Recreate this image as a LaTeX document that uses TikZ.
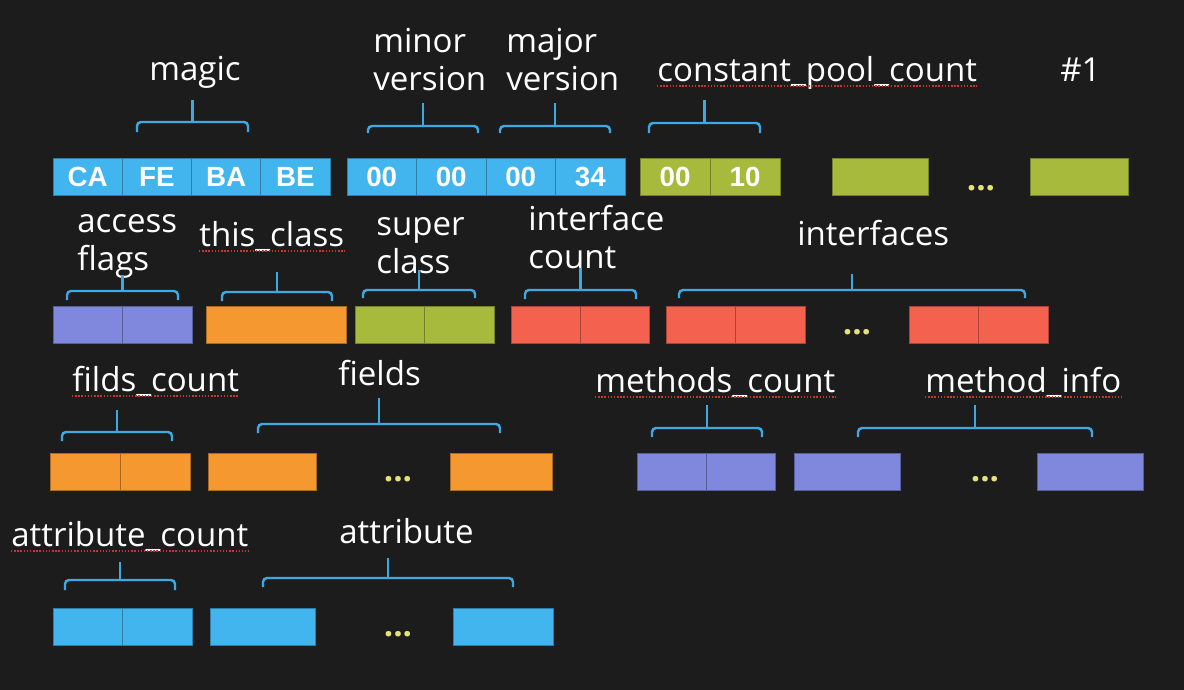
\documentclass[tikz,border=0pt]{standalone}
\usepackage{fontspec}
\setmainfont{Open Sans}
\newfontfamily\hexfamily{Liberation Sans}
\usepackage{xcolor}
\usepackage{tikz}

\definecolor{board}{HTML}{1C1C1C}
\definecolor{cblue}{HTML}{42B4EE}
\definecolor{cgreen}{HTML}{A8BA3C}
\definecolor{cpurple}{HTML}{7F88DD}
\definecolor{corange}{HTML}{F5982F}
\definecolor{cred}{HTML}{F4614F}
\definecolor{bracecol}{HTML}{3DA8E2}
\definecolor{dotcol}{HTML}{E6E27A}
\definecolor{spellred}{HTML}{C8352C}

\newlength{\px}\setlength{\px}{0.02cm}
\newcommand{\hexfont}{\hexfamily\bfseries\fontsize{15.8pt}{17pt}\selectfont}
\newcommand{\lblfont}{\fontsize{18.8pt}{21.6pt}\selectfont}

% group brace: left, right, bar y, tip y, stem top y
\newcommand{\grp}[5]{%
  \draw[brace] (#1,#4) -- (#1,#3) -- (#2,#3) -- (#2,#4);
  \draw[brace] ({(#1+#2)/2},#3) -- ({(#1+#2)/2},#5);
}

\begin{document}
\begin{tikzpicture}[x=0.02cm, y=-0.02cm,
  cell/.style={fill=#1, draw=#1!70!black, line width=0.5pt,
    minimum height=37\px, inner sep=0pt, text=white, font=\hexfont},
  brace/.style={draw=bracecol, line width=1.4pt, rounded corners=0.08cm},
  lbl/.style={text=white, font=\lblfont, inner sep=0pt, anchor=base west, align=left},
  dots/.style={text=dotcol, font=\lblfont\bfseries, inner sep=0pt, anchor=base},
  spell/.style={draw=spellred, densely dotted, line width=0.8pt}]

  \fill[board] (0,0) rectangle (1184,690);
  \useasboundingbox (0,0) rectangle (1184,690);

  % Row 1: magic, versions, constant pool
  \foreach \t [count=\i] in {CA,FE,BA,BE}
    \node[cell=cblue, minimum width=69.25\px] (mg\i) at ({53+69.25*(\i-0.5)},177) {\t};
  \foreach \t [count=\i] in {00,00,00,34}
    \node[cell=cblue, minimum width=69.5\px] (vr\i) at ({347+69.5*(\i-0.5)},177) {\t};
  \node[cell=cgreen, minimum width=70\px] (cp1) at (675,177) {00};
  \node[cell=cgreen, minimum width=70\px] (cp2) at (745,177) {10};
  \node[cell=cgreen, minimum width=96\px] (cpA) at (880,177) {};
  \node[dots] (d1) at (981,190) {...};
  \node[cell=cgreen, minimum width=98\px] (cpB) at (1079,177) {};

  % (multi-line labels sit on their last baseline)
  \node[lbl] (magic) at (149,80) {magic};
  \node[lbl] (minor) at (373,90) {minor\\version};
  \node[lbl] (major) at (506,90) {major\\version};
  \node[lbl] (cpc) at (657,81) {constant\_pool\_count};
  \node[lbl] (num) at (1060,81) {\#1};
  \draw[spell] ([yshift=-5\px]cpc.base west) -- ([yshift=-5\px]cpc.base east);

  \grp{137}{248}{122}{132}{100}
  \grp{368}{478}{126}{133}{103}
  \grp{500}{610}{126}{133}{103}
  \grp{649}{760}{123}{133}{100}

  % Row 2: flags, classes, interfaces
  \node[cell=cpurple, minimum width=69.5\px] (af1) at (87.75,324.5) {};
  \node[cell=cpurple, minimum width=69.5\px] (af2) at (157.25,324.5) {};
  \node[cell=corange, minimum width=140\px] (tc) at (276,324.5) {};
  \node[cell=cgreen, minimum width=69.5\px] (sc1) at (389.75,324.5) {};
  \node[cell=cgreen, minimum width=69.5\px] (sc2) at (459.25,324.5) {};
  \node[cell=cred, minimum width=69\px] (ic1) at (545.5,324.5) {};
  \node[cell=cred, minimum width=69\px] (ic2) at (614.5,324.5) {};
  \node[cell=cred, minimum width=69.5\px] (if1) at (700.75,324.5) {};
  \node[cell=cred, minimum width=69.5\px] (if2) at (770.25,324.5) {};
  \node[dots] (d2) at (857,334) {...};
  \node[cell=cred, minimum width=69.5\px] (if3) at (943.75,324.5) {};
  \node[cell=cred, minimum width=69.5\px] (if4) at (1013.25,324.5) {};

  \node[lbl] (access) at (77,270) {access\\flags};
  \node[lbl] (this) at (199,246) {this\_class};
  \node[lbl] (super) at (376,273) {super\\class};
  \node[lbl] (icount) at (528,268) {interface\\count};
  \node[lbl] (ifaces) at (797,245) {interfaces};
  \draw[spell] ([yshift=-5\px]this.base west) -- ([yshift=-5\px]this.base east);

  \grp{67}{178}{291}{300}{275}
  \grp{222}{332}{292}{301}{272}
  \grp{363}{475}{290}{298}{270}
  \grp{525}{636}{290}{299}{268}
  \grp{679}{1025}{290}{298}{274}

  % Row 3: fields and methods
  \node[cell=corange, minimum width=70\px] (fc1) at (85,471.5) {};
  \node[cell=corange, minimum width=70\px] (fc2) at (155,471.5) {};
  \node[cell=corange, minimum width=108\px] (fd1) at (262,471.5) {};
  \node[dots] (d3) at (398,481) {...};
  \node[cell=corange, minimum width=102\px] (fd2) at (501,471.5) {};
  \node[cell=cpurple, minimum width=69\px] (mc1) at (671.5,471.5) {};
  \node[cell=cpurple, minimum width=69\px] (mc2) at (740.5,471.5) {};
  \node[cell=cpurple, minimum width=106\px] (mi1) at (847,471.5) {};
  \node[dots] (d4) at (985,481) {...};
  \node[cell=cpurple, minimum width=106\px] (mi2) at (1090,471.5) {};

  \node[lbl] (fcount) at (72,391) {filds\_count};
  \node[lbl] (fields) at (338,385) {fields};
  \node[lbl] (mcount) at (595,392) {methods\_count};
  \node[lbl] (minfo) at (925,392) {method\_info};
  \foreach \n in {fcount,mcount,minfo}
    \draw[spell] ([yshift=-5\px]\n.base west) -- ([yshift=-5\px]\n.base east);

  \grp{62}{172}{432}{441}{410}
  \grp{258}{500}{424}{433}{398}
  \grp{652}{762}{428}{437}{405}
  \grp{858}{1092}{428}{437}{405}

  % Row 4: attributes
  \node[cell=cblue, minimum width=69.5\px] (ac1) at (87.75,626.5) {};
  \node[cell=cblue, minimum width=69.5\px] (ac2) at (157.25,626.5) {};
  \node[cell=cblue, minimum width=105\px] (at1) at (262.5,626.5) {};
  \node[dots] (d5) at (398,636) {...};
  \node[cell=cblue, minimum width=100\px] (at2) at (503,626.5) {};

  \node[lbl] (acount) at (11,546) {attribute\_count};
  \node[lbl] (attr) at (339,543) {attribute};
  \draw[spell] ([yshift=-5\px]acount.base west) -- ([yshift=-5\px]acount.base east);

  \grp{65}{175}{580}{590}{562}
  \grp{263}{513}{578}{587}{558}
\end{tikzpicture}
\end{document}
